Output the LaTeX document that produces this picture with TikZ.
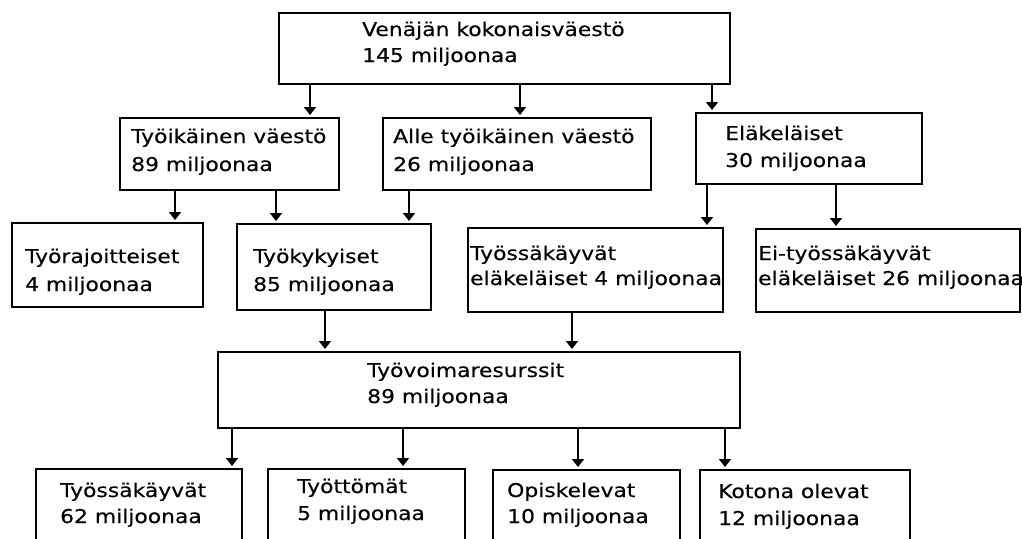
\documentclass[tikz,border=0pt]{standalone}
\usepackage{fontspec}
\setmainfont{DejaVu Sans}[FakeStretch=1.15, UprightFeatures={FakeBold=0.3}]
\usetikzlibrary{arrows.meta}
\tikzset{
  box/.style={draw=black, line width=2.4pt, inner sep=0pt, anchor=north west, fill=white},
  txt/.style={anchor=base west, inner sep=0pt, font=\fontsize{19}{22}\selectfont, text=black},
  arr/.style={line width=1.8pt, -{Triangle[width=12pt,length=8pt]}, shorten >=2pt}
}
\newcommand{\twolines}[6]{%
  \node[txt] (#1a) at (#2,#3) {#5};
  \node[txt] (#1b) at (#2,#4) {#6};}
\begin{document}
\begin{tikzpicture}[x=1pt,y=-1pt]
\useasboundingbox (0,0) rectangle (1022,538);
\clip (0,0) rectangle (1022,538);
\fill[white] (0,0) rectangle (1022,538);
% boxes
\node[box, minimum width=451pt, minimum height=71pt] (top) at (278,12) {};
\node[box, minimum width=219pt, minimum height=72pt] (tyoik) at (119,117) {};
\node[box, minimum width=268pt, minimum height=72pt] (alle) at (382,117) {};
\node[box, minimum width=226pt, minimum height=71pt] (elak) at (695,112) {};
\node[box, minimum width=191pt, minimum height=84pt] (tyor) at (11,222) {};
\node[box, minimum width=194pt, minimum height=86pt] (tyok) at (236,223) {};
\node[box, minimum width=255pt, minimum height=84pt] (tyel) at (467,227) {};
\node[box, minimum width=264pt, minimum height=83pt] (eityo) at (755,228) {};
\node[box, minimum width=522pt, minimum height=76pt] (tyov) at (217,351) {};
\node[box, minimum width=206pt, minimum height=80pt] (b1) at (35,468) {};
\node[box, minimum width=197pt, minimum height=80pt] (b2) at (267,468) {};
\node[box, minimum width=187pt, minimum height=79pt] (b3) at (492,469) {};
\node[box, minimum width=210pt, minimum height=79pt] (b4) at (699,469) {};
% texts
\twolines{ttop}{362}{36}{62}{Venäjän kokonaisväestö}{145 miljoonaa}
\twolines{ttyoik}{131}{143}{171}{Työikäinen väestö}{89 miljoonaa}
\twolines{talle}{393}{143}{171}{Alle työikäinen väestö}{26 miljoonaa}
\twolines{telak}{725}{140}{167}{Eläkeläiset}{30 miljoonaa}
\twolines{ttyor}{25}{263}{291}{Työrajoitteiset}{4 miljoonaa}
\twolines{ttyok}{253}{263}{291}{Työkykyiset}{85 miljoonaa}
\twolines{ttyel}{470}{260}{285}{Työssäkäyvät}{eläkeläiset 4 miljoonaa}
\twolines{teityo}{758}{260}{285}{Ei-työssäkäyvät}{eläkeläiset 26 miljoonaa}
\twolines{ttyov}{367}{377}{403}{Työvoimaresurssit}{89 miljoonaa}
\twolines{tb1}{60}{497}{523}{Työssäkäyvät}{62 miljoonaa}
\twolines{tb2}{297}{493}{520}{Työttömät}{5 miljoonaa}
\twolines{tb3}{507}{497}{523}{Opiskelevat}{10 miljoonaa}
\twolines{tb4}{718}{498}{525}{Kotona olevat}{12 miljoonaa}
% connectors
\draw[arr] (top.south -| 310,0) -- (tyoik.north -| 310,0);
\draw[arr] (top.south -| 520,0) -- (alle.north -| 520,0);
\draw[arr] (top.south -| 712,0) -- (elak.north -| 712,0);
\draw[arr] (tyoik.south -| 175,0) -- (tyor.north -| 175,0);
\draw[arr] (tyoik.south -| 276,0) -- (tyok.north -| 276,0);
\draw[arr] (alle.south -| 409,0) -- (tyok.north -| 409,0);
\draw[arr] (elak.south -| 707,0) -- (tyel.north -| 707,0);
\draw[arr] (elak.south -| 836,0) -- (eityo.north -| 836,0);
\draw[arr] (tyok.south -| 325,0) -- (tyov.north -| 325,0);
\draw[arr] (tyel.south -| 572,0) -- (tyov.north -| 572,0);
\draw[arr] (tyov.south -| 232,0) -- (b1.north -| 232,0);
\draw[arr] (tyov.south -| 403,0) -- (b2.north -| 403,0);
\draw[arr] (tyov.south -| 578,0) -- (b3.north -| 578,0);
\draw[arr] (tyov.south -| 725,0) -- (b4.north -| 725,0);
\end{tikzpicture}
\end{document}
